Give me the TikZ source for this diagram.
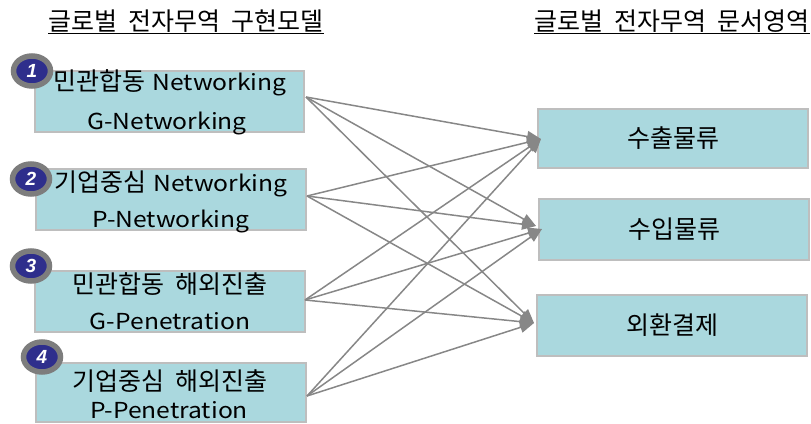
\documentclass[tikz,border=0pt]{standalone}
\usepackage{fontspec}
\usetikzlibrary{arrows.meta,shapes.geometric}
\newfontfamily\kr[WordSpace=2]{Noto Sans CJK KR}
\newfontfamily\krl[FakeStretch=1.12]{Noto Sans CJK KR}
\newfontfamily\numf{Liberation Sans}
\newcommand\latw[1]{{\krl\fontsize{22}{26}\selectfont #1}}
\definecolor{boxfill}{RGB}{170,216,222}
\definecolor{boxline}{RGB}{190,190,190}
\definecolor{arrowc}{RGB}{135,135,135}
\definecolor{navy}{RGB}{46,46,140}
\definecolor{ring}{RGB}{125,125,125}
\begin{document}
\begin{tikzpicture}[x=1pt,y=-1pt,
 box/.style={draw=boxline,fill=boxfill,line width=1.5pt,inner sep=0pt},
 ltxt/.style={anchor=base,inner sep=0pt,font=\kr\fontsize{25}{28}\selectfont},
 rtxt/.style={inner sep=0pt,font=\kr\fontsize{25}{28}\selectfont},
 ttl/.style={inner sep=0pt,anchor=base,font=\kr\fontsize{25}{28}\selectfont},
 uline/.style={line width=1.3pt},
 badge/.style={ellipse,draw=ring,fill=navy,line width=5.5pt,minimum width=37pt,minimum height=30pt,inner sep=0pt,text=white,font=\numf\fontsize{19}{19}\selectfont\bfseries\itshape},
 link/.style={draw=arrowc,line width=1.5pt,-{Triangle[length=14pt,width=11pt]}}]
\useasboundingbox (0,0) rectangle (811,423);

% titles
\node[ttl] (t1) at (186,30) {글로벌 전자무역 구현모델};
\node[ttl] (t2) at (672,30) {글로벌 전자무역 문서영역};
\draw[uline] ([yshift=-3.5pt]t1.base west) -- ([yshift=-3.5pt]t1.base east);
\draw[uline] ([yshift=-3.5pt]t2.base west) -- ([yshift=-3.5pt]t2.base east);

% left boxes
\node[box,minimum width=269pt,minimum height=61pt] (m1) at (169.5,101.5) {};
\node[box,minimum width=270pt,minimum height=61pt] (m2) at (171,199.5) {};
\node[box,minimum width=270pt,minimum height=61pt] (m3) at (170,301.5) {};
\node[box,minimum width=270pt,minimum height=59pt] (m4) at (171,392.5) {};

\node[ltxt] (m1a) at (170,90) {민관합동\hspace{7pt}\latw{Networking}};
\node[ltxt] (m1b) at (167,129) {\latw{G-Networking}};
\node[ltxt] (m2a) at (171,191) {기업중심\hspace{7pt}\latw{Networking}};
\node[ltxt] (m2b) at (171,227) {\latw{P-Networking}};
\node[ltxt] (m3a) at (170,293) {민관합동 해외진출};
\node[ltxt] (m3b) at (170,329) {\latw{G-Penetration}};
\node[ltxt] (m4a) at (170,390) {기업중심 해외진출};
\node[ltxt] (m4b) at (169,418) {\latw{P-Penetration}};

% badges
\node[badge] (b1) at (32,71) {1};
\node[badge] (b2) at (31,179) {2};
\node[badge] (b3) at (31,266) {3};
\node[badge] (b4) at (42,357) {4};

% right boxes
\node[box,minimum width=270pt,minimum height=59pt] (r1) at (673,138.5) {};
\node[box,minimum width=270pt,minimum height=61pt] (r2) at (674,229.5) {};
\node[box,minimum width=270pt,minimum height=61pt] (r3) at (672,325.5) {};
\node[rtxt] (r1t) at (r1) {수출물류};
\node[rtxt] (r2t) at (r2) {수입물류};
\node[rtxt] (r3t) at (r3) {외환결제};

% connector ends
\coordinate (s1) at (306,97);
\coordinate (s2) at (307,196);
\coordinate (s3) at (305,300);
\coordinate (s4) at (307,396);
\coordinate (tA) at (541,139);
\coordinate (tB) at (536,226);
\coordinate (tBb) at (542,229);
\coordinate (tC) at (534,323);

\draw[link] (s1) -- (tA);
\draw[link] (s1) -- (tB);
\draw[link] (s1) -- (tC);
\draw[link] (s2) -- (tA);
\draw[link] (s2) -- (tB);
\draw[link] (s2) -- (tC);
\draw[link] (s3) -- (tA);
\draw[link] (s3) -- (tBb);
\draw[link] (s3) -- (tC);
\draw[link] (s4) -- (tA);
\draw[link] (s4) -- (tBb);
\draw[link] (s4) -- (tC);
\end{tikzpicture}
\end{document}
